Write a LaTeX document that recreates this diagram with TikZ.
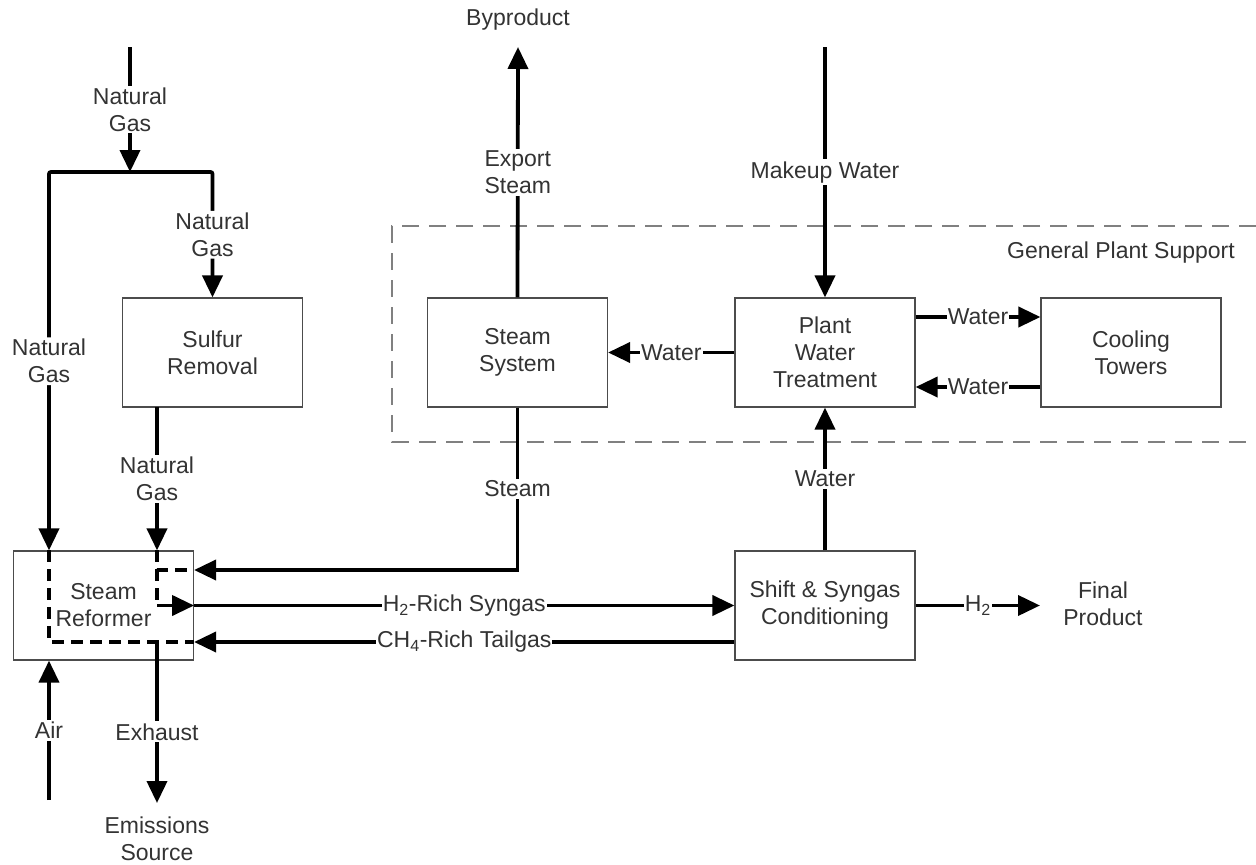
\documentclass[tikz,border=0pt]{standalone}
\usepackage{fontspec}
\setmainfont{Liberation Sans}
\usetikzlibrary{arrows.meta,calc}
\begin{document}
\begin{tikzpicture}[x=1pt,y=-1pt,
  every node/.style={font=\fontsize{23}{27}\selectfont, text=black!80},
  >={Triangle[length=22pt,width=20pt]},
  box/.style={draw=black!70, line width=1.2pt, minimum width=180pt, minimum height=109pt, inner sep=0pt, align=center},
  flow/.style={line width=3.8pt, black},
  inner/.style={line width=3.8pt, black, dash pattern=on 12pt off 7pt},
  lbl/.style={fill=white, inner sep=2pt, align=center},
  lblh/.style={fill=white, inner sep=1pt, align=center},
  group/.style={draw=black!50, line width=1.8pt, dash pattern=on 17pt off 10pt}
]
\useasboundingbox (0,0) rectangle (1256,865);

% support area
\draw[group] (1256,226) -- (392,226) -- (392,442) -- (1256,442);
\node (gps) at (1121,253) {General Plant Support};

% process blocks
\node[box] (ref)   at (103.5,605.5) {Steam\\Reformer};
\node[box] (sul)   at (212.5,352.5) {Sulfur\\Removal};
\node[box] (sts)   at (517.5,352.5) {Steam\\System};
\node[box] (pwt)   at (825,352.5)   {Plant\\Water\\Treatment};
\node[box] (cool)  at (1131,352.5)  {Cooling\\Towers};
\node[box] (shift) at (825,605.5)   {Shift \& Syngas\\Conditioning};

% terminal labels
\node (byp)  at (518,20)   {Byproduct};
\node[align=center] (emis) at (157,839) {Emissions\\Source};
\node[align=center] (fin)  at (1103,604) {Final\\Product};

% free ends and junctions
\coordinate (ngin)   at (130,47);
\coordinate (ngsp)   at (130,172);
\coordinate (ngL)    at (49,172);
\coordinate (sulout) at (157,407);
\coordinate (bp)     at (518,47);
\coordinate (mw)     at (825,47);
\coordinate (air)    at (49,800);
\coordinate (exh)    at (157,642);
\coordinate (exhend) at (157,803);
\coordinate (h2end)  at (1040,605.5);
\coordinate (sgin)   at (157,605.5);

% natural gas feed and split
\draw[flow,->] (ngin) -- node[lbl]{Natural\\Gas} (ngsp);
\draw[flow,->,rounded corners=2pt] (ngsp) -| node[lbl,pos=0.75]{Natural\\Gas} (sul.north);
\draw[flow,->,rounded corners=2pt] (ngsp) -| node[lbl,pos=0.75]{Natural\\Gas} (ngL |- ref.north);
\draw[flow,->] (sulout) -- node[lbl]{Natural\\Gas} (sulout |- ref.north);

% steam system
\draw[flow,->] (sts.north) -- node[lbl]{Export\\Steam} (bp);
\draw[flow,->] (sts.south) |- node[lbl,pos=0.25]{Steam} ([yshift=35.5pt]ref.east);

% water circuit
\draw[flow,->] (mw) -- node[lbl]{Makeup Water} (pwt.north);
\draw[flow,->] (pwt.west) -- node[lblh]{Water} (sts.east);
\draw[flow,->] ([yshift=35.5pt]pwt.east) -- node[lblh]{Water} ([yshift=35.5pt]cool.west);
\draw[flow,->] ([yshift=-34.5pt]cool.west) -- node[lblh]{Water} ([yshift=-34.5pt]pwt.east);
\draw[flow,->] (shift.north) -- node[lbl]{Water} (pwt.south);

% syngas loop
\draw[inner] (ngL |- ref.north) -- (ngL |- exh) -- (exh -| ref.east);
\draw[inner] (sulout |- ref.north) -- (sgin);
\draw[inner] (sulout |- ref.north) |- ([yshift=35.5pt]ref.east);
\draw[flow,->] (sgin) -- (ref.east);
\draw[flow,->] (ref.east) -- node[lblh]{H\textsubscript{2}-Rich Syngas} (shift.west);
\draw[flow,->] ([yshift=-36.5pt]shift.west) -- node[lblh]{CH\textsubscript{4}-Rich Tailgas} ([yshift=-36.5pt]ref.east);
\draw[flow,->] (shift.east) -- node[lblh]{H\textsubscript{2}} (h2end);

% air and exhaust
\draw[flow,->] (air) -- node[lbl]{Air} (ngL |- ref.south);
\draw[flow,->] (exh) -- (exh |- ref.south) -- node[lbl]{Exhaust} (exhend);
\end{tikzpicture}
\end{document}
